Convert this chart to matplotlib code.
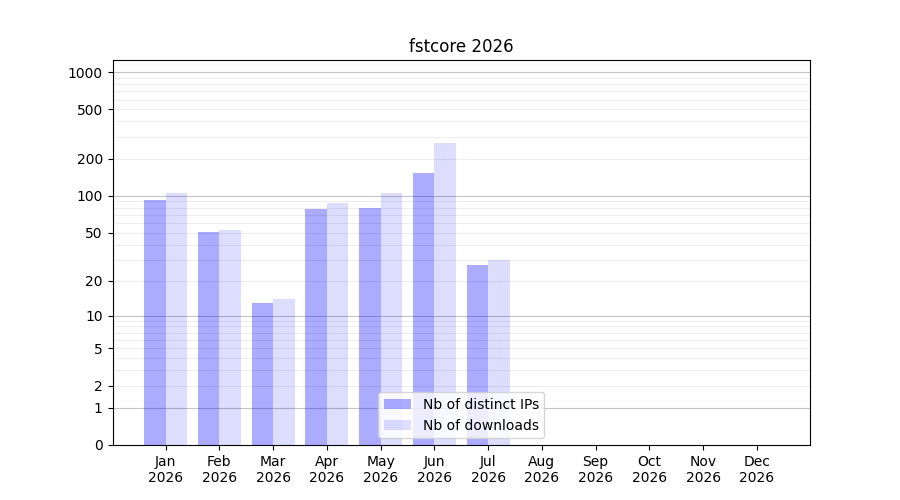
import numpy as np
import matplotlib.pyplot as plt

# Data
months = ['Jan', 'Feb', 'Mar', 'Apr', 'May', 'Jun', 'Jul', 'Aug', 'Sep', 'Oct', 'Nov', 'Dec']
year = '2026'
ips = [92, 51, 13, 78, 80, 152, 27, 0, 0, 0, 0, 0]
downloads = [105, 53, 14, 87, 106, 270, 30, 0, 0, 0, 0, 0]
ytick_vals = [0, 1, 2, 5, 10, 20, 50, 100, 200, 500, 1000]

fig, ax = plt.subplots(figsize=(9, 5), dpi=100)

# Scale log10(1 + x)
ax.set_yscale('function', functions=(lambda v: np.log10(1 + np.clip(v, -0.999, None)),
                                     lambda v: 10 ** v - 1))

x = np.arange(len(months))
w = 0.4

# Grid lines
for d in [1, 10, 100, 1000]:
    for k in range(2, 10):
        if d * k < 1300:
            ax.axhline(d * k, color='#eeeeee', lw=0.8, zorder=0)
for v in [1, 10, 100, 1000]:
    ax.axhline(v, color='#c4c4c4', lw=0.8, zorder=0)

ax.bar(x - w / 2, ips, width=w, color=(0, 0, 1, 0.33), label='Nb of distinct IPs', zorder=2)
ax.bar(x + w / 2, downloads, width=w, color=(0, 0, 1, 0.135), label='Nb of downloads', zorder=2)

ax.set_ylim(0, 1250)
ax.set_yticks(ytick_vals)
ax.set_yticklabels([str(v) for v in ytick_vals])
ax.minorticks_off()
ax.set_xticks(x)
ax.set_xticklabels([m + '\n' + year for m in months])
ax.set_title('fstcore 2026')
ax.legend(loc='lower center')

plt.savefig('out.png')
